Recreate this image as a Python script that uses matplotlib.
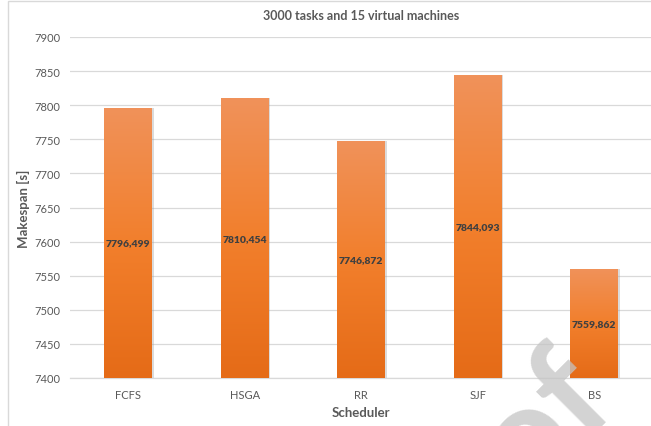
import numpy as np
import matplotlib
matplotlib.use("Agg")
from matplotlib import pyplot as plt
from matplotlib.colors import LinearSegmentedColormap
from matplotlib.patches import Rectangle

# makespan per scheduler, 3000 tasks / 15 VMs
schedulers = ['FCFS', 'HSGA', 'RR', 'SJF', 'BS']
makespan = [7796.499, 7810.454, 7746.872, 7844.093, 7559.862]
y_ticks = [7400, 7450, 7500, 7550, 7600, 7650, 7700, 7750, 7800, 7850, 7900]

plt.rcParams['font.family'] = ['Lato', 'DejaVu Sans']

fig = plt.figure(figsize=(6.51, 4.27), dpi=100)
ax = fig.add_axes([70/651, 1 - 379/427, 582.5/651, 341/427])

# chart frame
fig.patches.append(Rectangle((8/651, -0.1), 1.2, 1 - 2/427 + 0.1, transform=fig.transFigure,
                             fill=False, edgecolor='#d9d9d9', lw=1.0, zorder=0))

x = np.arange(len(schedulers))
bars = ax.bar(x, [v - 7400 for v in makespan], bottom=7400, width=0.41,
              color='none', edgecolor='none', zorder=3)

# orange gradient, light on top, darker at the base
cmap = LinearSegmentedColormap.from_list('og', ['#e56b17', '#f27f2c', '#f0925a'])
grad = np.linspace(0, 1, 256).reshape(-1, 1)
for b in bars:
    x0, y0 = b.get_x(), b.get_y()
    w, h = b.get_width(), b.get_height()
    # soft shadow on the right side
    ax.add_patch(Rectangle((x0 + 0.012, y0), w, h, color='#9a9a9a', alpha=0.35, lw=0, zorder=2))
    im = ax.imshow(grad, cmap=cmap, origin='lower', aspect='auto',
                   extent=(x0, x0 + w, y0, y0 + h), zorder=3)
    im.set_clip_path(b)

for xi, v in zip(x, makespan):
    ax.text(xi, (7400 + v) / 2, f'{v:.3f}'.replace('.', ','), ha='center', va='center',
            fontsize=7.5, fontweight='heavy', color='#404040', zorder=5)

ax.set_xlim(-0.5, 4.5)
ax.set_ylim(7400, 7900)
ax.set_yticks(y_ticks)
ax.set_xticks(x)
ax.set_xticklabels(schedulers)
ax.tick_params(axis='both', length=0, labelsize=8, labelcolor='#595959')
ax.tick_params(axis='y', pad=7)
ax.tick_params(axis='x', pad=8)
ax.grid(axis='y', color='#d9d9d9', lw=0.9, zorder=0)
ax.set_axisbelow(True)
for s in ['top', 'right', 'left']:
    ax.spines[s].set_visible(False)
ax.spines['bottom'].set_color('#d9d9d9')
ax.spines['bottom'].set_linewidth(0.9)

ax.set_title('3000 tasks and 15 virtual machines', fontsize=9, fontweight='bold',
             color='#595959', pad=13)
ax.set_ylabel('Makespan [s]', fontsize=9.5, fontweight='bold', color='#595959')
ax.yaxis.set_label_coords(-40/582.5, 0.5)
ax.set_xlabel('Scheduler', fontsize=9.5, fontweight='bold', color='#595959', labelpad=4)

# stamp across the lower right corner
fig.text(618/651, 1 - 400/427, 'Proof', rotation=45, rotation_mode='anchor',
         ha='right', va='baseline', fontsize=100, fontweight='bold',
         color='#c4c4c4', alpha=0.75, zorder=10)

fig.savefig('out.png', dpi=100)
